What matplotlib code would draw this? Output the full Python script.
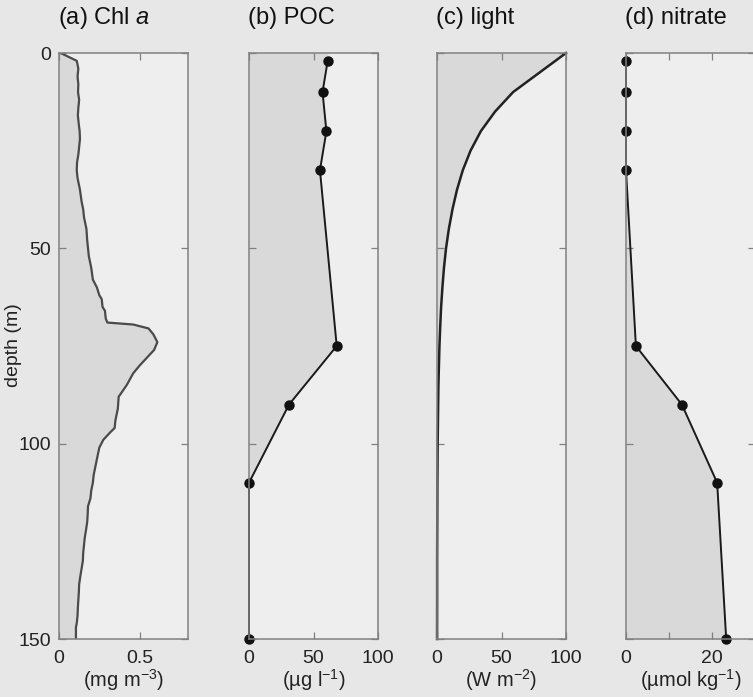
import numpy as np
import matplotlib
matplotlib.use("Agg")
import matplotlib.pyplot as plt

plt.rcParams['font.family'] = ['Liberation Sans', 'DejaVu Sans']
plt.rcParams['mathtext.fontset'] = 'custom'
plt.rcParams['mathtext.rm'] = 'Liberation Sans'
plt.rcParams['mathtext.it'] = 'Liberation Sans:italic'

# (a) chlorophyll profile
chl_depth = [0, 1, 2, 4, 6, 8, 10, 12, 14, 16, 18, 20, 22, 24, 26, 28, 30, 32, 35,
             38, 40, 42, 45, 48, 50, 52, 55, 58, 60, 62, 63, 65, 66, 68, 69, 69.5,
             70.5, 72, 74, 76, 78, 80, 82, 85, 88, 91, 94, 96, 97, 99, 101, 104,
             106, 108, 110, 112, 114, 116, 118, 120, 122, 124, 126, 128, 130, 132,
             134, 136, 138, 140, 142, 144, 146, 147, 150]
chl = [0.01, 0.06, 0.11, 0.12, 0.115, 0.12, 0.118, 0.125, 0.12, 0.117, 0.122,
       0.128, 0.13, 0.125, 0.12, 0.112, 0.11, 0.115, 0.13, 0.14, 0.15, 0.155,
       0.17, 0.175, 0.18, 0.185, 0.2, 0.21, 0.235, 0.25, 0.265, 0.27, 0.285,
       0.29, 0.3, 0.46, 0.555, 0.585, 0.61, 0.59, 0.545, 0.5, 0.46, 0.42, 0.37,
       0.365, 0.35, 0.345, 0.32, 0.275, 0.25, 0.235, 0.225, 0.215, 0.21, 0.2,
       0.195, 0.18, 0.178, 0.175, 0.168, 0.16, 0.155, 0.15, 0.148, 0.14, 0.132,
       0.125, 0.123, 0.12, 0.117, 0.115, 0.11, 0.105, 0.105]

# (b) POC and (d) nitrate bottle samples
bottle_depth = [2, 10, 20, 30, 75, 90, 110, 150]
poc = [61, 57, 60, 55, 68, 31, 0, 0]
nitrate = [0, 0, 0, 0, 2.3, 13, 21.2, 23.3]

# (c) light profile
light_depth = [0, 10, 15, 20, 25, 30, 35, 40, 45, 50, 55, 60, 65, 70, 75, 80,
               85, 90, 95, 100, 110, 120, 130, 140, 150]
light = [100, 59, 45, 34, 26, 20, 15.5, 12, 9.2, 7, 5.4, 4.2, 3.2, 2.5, 1.9,
         1.5, 1.1, 0.9, 0.7, 0.5, 0.3, 0.2, 0.1, 0.1, 0.05]

titles = ['(a) Chl $a$', '(b) POC', '(c) light', '(d) nitrate']
units = ['(mg m$^{-3}$)', '(\u00b5g l$^{-1}$)', '(W m$^{-2}$)', '(\u00b5mol kg$^{-1}$)']
xlims = [(0, 0.8), (0, 100), (0, 100), (0, 30)]
xticks = [[0, 0.5], [0, 50, 100], [0, 50, 100], [0, 10, 20, 30]]
xticklabels = [['0', '0.5'], ['0', '50', '100'], ['0', '50', '100'], ['0', '', '20', '']]

bg = '#e7e7e7'
face = '#eeeeee'
shade = '#d9d9d9'
spine = '#808080'

W, H = 753, 697
fig = plt.figure(figsize=(W / 100, H / 100), dpi=100, facecolor=bg)
lefts = [59, 249, 437, 626]
axes = []
for i, lx in enumerate(lefts):
    ax = fig.add_axes([lx / W, 1 - 639 / H, 129 / W, 586 / H])
    ax.set_facecolor(face)
    ax.set_ylim(150, 0)
    ax.set_xlim(*xlims[i])
    ax.set_yticks([0, 50, 100, 150])
    ax.set_xticks(xticks[i])
    ax.set_xticklabels(xticklabels[i])
    ax.tick_params(direction='in', length=5, width=0.9, color=spine,
                   top=True, right=True, labelsize=14, labelcolor='#222222', pad=6)
    ax.tick_params(axis='x', pad=8)
    if i > 0:
        ax.set_yticklabels([])
    for s in ax.spines.values():
        s.set_color(spine)
        s.set_linewidth(1.1)
    ax.set_title(titles[i], fontsize=17, pad=21, color='#111111', loc='left', x=-0.01)
    ax.set_xlabel(units[i], fontsize=14.5, labelpad=0, color='#222222')
    axes.append(ax)

fig.text(14 / W, 1 - 345 / H, 'depth (m)', rotation=90, fontsize=14,
         ha='center', va='center', color='#222222')

ax = axes[0]
ax.fill_betweenx(chl_depth, 0, chl, color=shade, lw=0)
ax.plot(chl, chl_depth, color='#4a4a4a', lw=1.6)

ax = axes[1]
ax.fill_betweenx([0] + bottle_depth, 0, [poc[0]] + poc, color=shade, lw=0)
ax.plot(poc, bottle_depth, color='#1a1a1a', lw=1.4, marker='o', ms=6.5,
        mfc='#111111', mec='#111111', clip_on=False)

ax = axes[2]
ax.fill_betweenx(light_depth, 0, light, color=shade, lw=0)
ax.plot(light, light_depth, color='#222222', lw=1.8, clip_on=False)

ax = axes[3]
ax.fill_betweenx(bottle_depth, 0, nitrate, color=shade, lw=0)
ax.plot(nitrate, bottle_depth, color='#1a1a1a', lw=1.4, marker='o', ms=6.5,
        mfc='#111111', mec='#111111', clip_on=False)

fig.savefig('out.png', dpi=100, facecolor=bg)
